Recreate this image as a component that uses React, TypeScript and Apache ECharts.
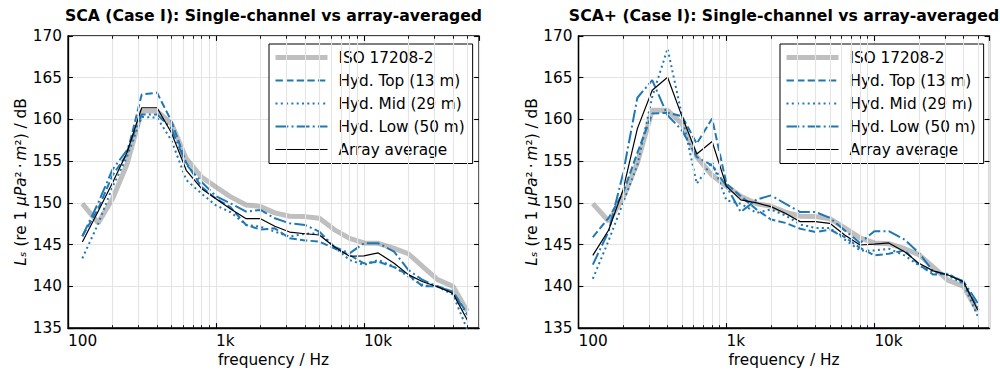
import React, { useEffect, useRef } from 'react';
import * as echarts from 'echarts';

// ---------------- data ----------------
const FREQS = [125, 160, 200, 250, 315, 400, 500, 630, 800, 1000, 1250, 1600, 2000, 2500, 3150, 4000, 5000, 6300, 8000, 10000, 12500, 16000, 20000, 25000, 31500, 40000, 50000];

const MINOR_FREQS = [200, 300, 400, 500, 600, 700, 800, 900, 2000, 3000, 4000, 5000, 6000, 7000, 8000, 9000, 20000, 30000, 40000, 50000];
const X_TICK_LABELS: Record<number, string> = { 100: '100', 1000: '1k', 10000: '10k' };
const X_MIN = 100;
const X_MAX = 60000;
const Y_MIN = 135;
const Y_MAX = 170;
const Y_STEP = 5;

const TITLES = [
  'SCA (Case I): Single-channel vs array-averaged',
  'SCA+ (Case I): Single-channel vs array-averaged',
];
const SERIES_NAMES = ['ISO 17208-2', 'Hyd. Top (13 m)', 'Hyd. Mid (29 m)', 'Hyd. Low (50 m)', 'Array average'];

// Left panel: SCA
const SCA_ISO = [149.9, 147.6, 150.5, 154.6, 161.0, 161.0, 159.5, 155.3, 153.1, 151.9, 150.75, 149.75, 149.55, 148.8, 148.4, 148.35, 148.15, 146.8, 145.75, 145.2, 145.15, 144.55, 143.9, 142.35, 140.8, 140.0, 137.0];
const SCA_TOP = [146.0, 149.3, 153.3, 155.8, 163.0, 163.2, 159.8, 154.8, 151.9, 150.5, 149.5, 147.35, 146.8, 146.95, 145.75, 145.5, 145.35, 144.55, 143.75, 142.75, 142.95, 142.3, 141.35, 140.0, 140.0, 139.35, 136.75];
const SCA_MID = [143.35, 147.5, 151.9, 155.5, 160.3, 160.2, 157.5, 152.75, 151.1, 149.7, 148.9, 147.35, 147.15, 146.55, 145.95, 146.3, 146.35, 144.75, 143.15, 142.55, 143.15, 142.35, 141.15, 140.15, 139.95, 139.0, 134.8];
const SCA_LOW = [146.0, 150.0, 154.0, 156.3, 160.6, 160.6, 158.9, 154.6, 152.5, 150.8, 149.95, 148.95, 149.15, 148.15, 147.55, 147.35, 146.55, 144.75, 143.95, 145.15, 145.15, 144.15, 141.95, 140.75, 139.95, 139.35, 136.55];
const SCA_AVG = [145.3, 149.0, 152.4, 156.0, 161.4, 161.4, 158.4, 153.9, 151.7, 150.5, 149.3, 148.1, 148.1, 147.2, 146.5, 146.3, 146.15, 144.75, 143.6, 143.65, 144.0, 142.75, 141.4, 140.55, 139.95, 139.15, 135.96];

// Right panel: SCA+
const SCAP_ISO = [149.9, 147.8, 150.6, 154.8, 161.1, 161.1, 159.5, 155.5, 153.3, 152.0, 150.8, 149.9, 149.6, 148.9, 148.4, 148.35, 148.1, 147.0, 145.8, 145.2, 145.1, 144.5, 143.8, 142.3, 140.7, 140.0, 137.0];
const SCAP_TOP = [145.9, 148.2, 151.2, 156.0, 160.7, 160.8, 160.4, 157.1, 160.1, 152.3, 150.8, 149.2, 148.0, 147.6, 146.9, 146.5, 146.8, 145.9, 144.6, 143.7, 143.9, 144.3, 142.6, 141.4, 141.5, 140.4, 137.4];
const SCAP_MID = [140.9, 145.5, 150.0, 154.5, 162.7, 168.5, 160.5, 152.3, 154.9, 150.3, 149.9, 148.8, 149.2, 148.5, 147.4, 147.0, 147.0, 145.6, 144.3, 144.3, 144.5, 143.7, 142.5, 141.7, 141.3, 140.3, 136.4];
const SCAP_LOW = [142.6, 146.6, 153.5, 162.6, 164.7, 160.5, 158.7, 155.5, 154.5, 152.0, 148.9, 150.4, 150.9, 149.9, 148.9, 148.9, 148.2, 146.7, 145.2, 146.6, 146.6, 145.6, 144.0, 141.8, 141.4, 140.6, 138.0];
const SCAP_AVG = [143.7, 146.75, 151.55, 158.9, 163.5, 165.05, 160.4, 155.85, 157.35, 152.0, 150.35, 150.0, 149.55, 148.75, 147.75, 147.75, 147.55, 146.15, 144.95, 145.05, 145.2, 144.15, 142.75, 141.85, 141.35, 140.55, 137.15];

const PANELS = [
  [SCA_ISO, SCA_TOP, SCA_MID, SCA_LOW, SCA_AVG],
  [SCAP_ISO, SCAP_TOP, SCAP_MID, SCAP_LOW, SCAP_AVG],
];

// ---------------- styles ----------------
const FONT = 'DejaVu Sans';
const FS = 15.3;
const TITLE_FS = 15.7;
const BLUE = '#1f77b4';
const GRID_COLOR = '#e4e4e4';
const GRID_LEFTS = [68, 578.5];
const GRID_TOP = 36;
const GRID_W = 411;
const GRID_H = 292;
const LEGEND_LEFTS = [269, 780];
const PX_PER_UNIT = GRID_H / (Y_MAX - Y_MIN);
const MINOR_TICK = 2.8 / PX_PER_UNIT;

const LINE_STYLES: any[] = [
  { color: 'rgba(128,128,128,0.5)', width: 5, type: 'solid', cap: 'butt' },
  { color: BLUE, width: 2, type: [7.4, 3.2], cap: 'butt' },
  { color: BLUE, width: 2, type: [2, 3.3], cap: 'butt' },
  { color: BLUE, width: 2, type: [12.8, 3.2, 2, 3.2], cap: 'butt' },
  { color: '#000', width: 1.2, type: 'solid', cap: 'butt' },
];
const Z_ORDER = [2, 3, 3, 3, 4];

function buildOption() {
  const grids = GRID_LEFTS.map((left) => ({
    left, top: GRID_TOP, width: GRID_W, height: GRID_H,
    show: true, borderColor: '#000', borderWidth: 1.3, backgroundColor: 'transparent',
  }));

  const xAxes: any[] = [];
  const yAxes: any[] = [];
  GRID_LEFTS.forEach((_, gi) => {
    xAxes.push({
      type: 'log', logBase: 10, gridIndex: gi, min: X_MIN, max: X_MAX, position: 'bottom',
      name: 'frequency / Hz', nameLocation: 'middle', nameGap: 24,
      nameTextStyle: { fontSize: FS, color: '#000', fontFamily: FONT },
      axisLine: { show: true, onZero: false, lineStyle: { color: '#000', width: 1.3 } },
      axisTick: { show: true, inside: true, length: 4.9, lineStyle: { color: '#000', width: 1.1 } },
      axisLabel: {
        show: true, align: 'left', margin: 5, fontSize: FS, color: '#000', fontFamily: FONT,
        showMaxLabel: false,
        formatter: (v: number) => X_TICK_LABELS[Math.round(v)] ?? '',
      },
      splitLine: { show: true, lineStyle: { color: GRID_COLOR, width: 1.1 } },
      minorTick: { show: false }, minorSplitLine: { show: false },
    });
    xAxes.push({
      type: 'log', logBase: 10, gridIndex: gi, min: X_MIN, max: X_MAX, position: 'top',
      axisLine: { show: false },
      axisTick: { show: true, inside: true, length: 4.9, lineStyle: { color: '#000', width: 1.1 } },
      axisLabel: { show: false }, splitLine: { show: false },
    });
    yAxes.push({
      type: 'value', gridIndex: gi, min: Y_MIN, max: Y_MAX, interval: Y_STEP, position: 'left',
      name: '{i|L}{i|ₛ} (re 1 {i|μPa}²\u2009·\u2009{i|m}²) / dB',
      nameLocation: 'middle', nameGap: 39, nameRotate: 90,
      nameTextStyle: {
        fontSize: FS, color: '#000', fontFamily: FONT,
        rich: { i: { fontStyle: 'italic', fontSize: FS, color: '#000', fontFamily: FONT } },
      },
      axisLine: { show: true, onZero: false, lineStyle: { color: '#000', width: 1.3 } },
      axisTick: { show: true, inside: true, length: 4.9, lineStyle: { color: '#000', width: 1.1 } },
      axisLabel: { show: true, margin: 6, fontSize: FS, color: '#000', fontFamily: FONT },
      splitLine: { show: true, lineStyle: { color: GRID_COLOR, width: 1.1 } },
    });
    yAxes.push({
      type: 'value', gridIndex: gi, min: Y_MIN, max: Y_MAX, interval: Y_STEP, position: 'right',
      axisLine: { show: false },
      axisTick: { show: true, inside: true, length: 4.9, lineStyle: { color: '#000', width: 1.1 } },
      axisLabel: { show: false }, splitLine: { show: false },
    });
  });

  const series: any[] = [];
  PANELS.forEach((panel, gi) => {
    const xi = gi * 2;
    const yi = gi * 2;
    // minor grid lines
    series.push({
      type: 'line', name: '__grid' + gi, xAxisIndex: xi, yAxisIndex: yi, data: [], z: 1, silent: true,
      markLine: {
        silent: true, animation: false, symbol: ['none', 'none'], label: { show: false },
        emphasis: { disabled: true },
        lineStyle: { color: GRID_COLOR, width: 1.1, type: 'solid' },
        data: MINOR_FREQS.map((f) => ({ xAxis: f })),
      },
    });
    // minor ticks (bottom + top, inward)
    series.push({
      type: 'line', name: '__ticks' + gi, xAxisIndex: xi, yAxisIndex: yi, data: [], z: 6, silent: true,
      markLine: {
        silent: true, animation: false, symbol: ['none', 'none'], label: { show: false },
        emphasis: { disabled: true },
        lineStyle: { color: '#000', width: 0.9, type: 'solid' },
        data: [
          ...MINOR_FREQS.map((f) => [{ coord: [f, Y_MIN] }, { coord: [f, Y_MIN + MINOR_TICK] }]),
          ...MINOR_FREQS.map((f) => [{ coord: [f, Y_MAX] }, { coord: [f, Y_MAX - MINOR_TICK] }]),
        ],
      },
    });
    panel.forEach((vals, si) => {
      series.push({
        type: 'line', name: SERIES_NAMES[si], xAxisIndex: xi, yAxisIndex: yi,
        data: FREQS.map((f, i) => [f, vals[i]]),
        symbol: 'none', showSymbol: false, smooth: false, clip: true, z: Z_ORDER[si],
        lineStyle: LINE_STYLES[si], itemStyle: { color: LINE_STYLES[si].color },
        emphasis: { disabled: true },
      });
    });
  });

  const legends = LEGEND_LEFTS.map((left) => ({
    show: true, orient: 'vertical', left, top: 44,
    padding: [6, 8, 6.5, 4], itemWidth: 52, itemHeight: 15.3, itemGap: 8,
    backgroundColor: '#fff', borderColor: '#000', borderWidth: 1, borderRadius: 0,
    selectedMode: false,
    textStyle: { fontSize: FS, color: '#000', fontFamily: FONT, padding: [0, 0, 0, 6] },
    data: SERIES_NAMES.map((name, si) => ({
      name,
      lineStyle: { ...LINE_STYLES[si] },
      itemStyle: { opacity: 0 },
    })),
  }));

  const titles = TITLES.map((text, gi) => ({
    text, left: GRID_LEFTS[gi] + GRID_W / 2, textAlign: 'center', top: 7, padding: 0,
    textStyle: { fontSize: TITLE_FS, fontWeight: 'bold', color: '#000', fontFamily: FONT },
  }));

  return {
    animation: false,
    backgroundColor: '#fff',
    textStyle: { fontFamily: FONT },
    title: titles,
    legend: legends,
    grid: grids,
    xAxis: xAxes,
    yAxis: yAxes,
    series,
  };
}

export default function App() {
  const ref = useRef<HTMLDivElement>(null);
  useEffect(() => {
    if (!ref.current) return;
    const chart = echarts.init(ref.current, undefined, { renderer: 'svg' });
    chart.setOption(buildOption() as any);
    return () => chart.dispose();
  }, []);
  return (
    <div
      ref={ref}
      style={{ position: 'fixed', left: 0, top: 0, width: 1000, height: 382, background: '#fff' }}
    />
  );
}
